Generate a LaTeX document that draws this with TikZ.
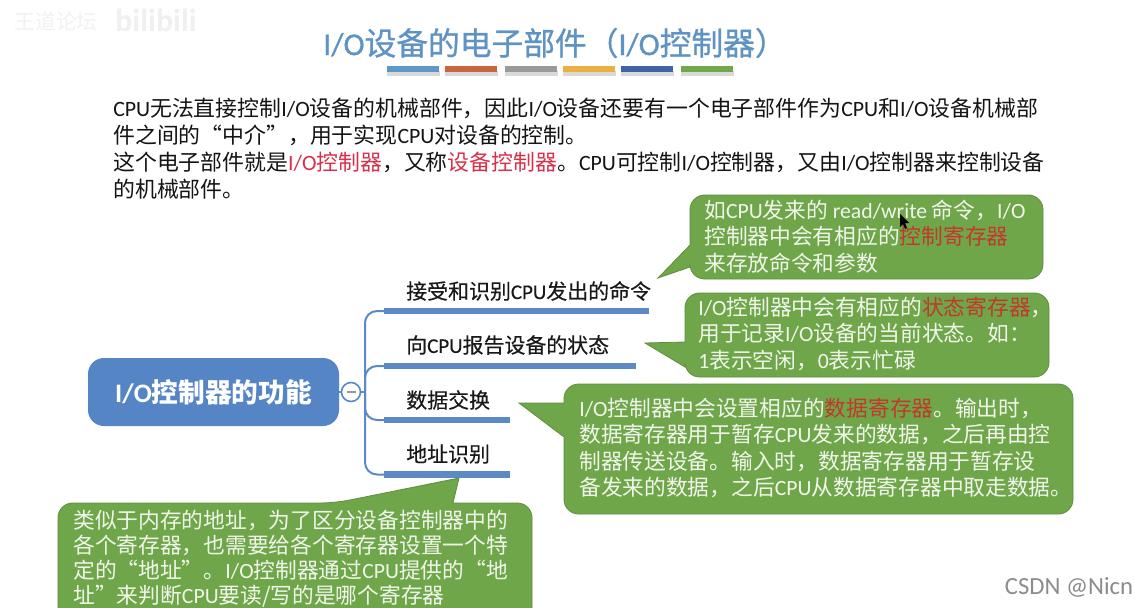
\documentclass[tikz,border=0pt]{standalone}
\usepackage{fontspec}
\setmainfont{Noto Sans CJK SC}
\newfontfamily\latinface{Carlito}
\newfontfamily\medface[FakeBold=0.35]{Noto Sans CJK SC}
\newfontfamily\medlatin[FakeBold=0.35]{Carlito}
\newfontfamily\titleface[FakeBold=0.8]{Noto Sans CJK SC}
\newfontfamily\titlelatin[FakeBold=0.8]{Carlito}
\newcommand{\la}[1]{{\latinface #1}}
\newcommand{\lm}[1]{{\medlatin #1}}
\newcommand{\lt}[1]{{\titlelatin #1}}
\definecolor{titleblue}{HTML}{5F93C4}
\definecolor{barblue}{HTML}{5B8AC6}
\definecolor{rootblue}{HTML}{5585C4}
\definecolor{calloutgreen}{HTML}{70A64A}
\definecolor{calloutedge}{HTML}{5E8F3E}
\definecolor{bodyred}{HTML}{D8304A}
\definecolor{calloutred}{HTML}{C0392B}
\definecolor{calloutink}{HTML}{F1F6EC}
\newcommand{\bodyr}[1]{\textcolor{bodyred}{#1}}
\newcommand{\callr}[1]{\textcolor{calloutred}{#1}}
\tikzset{
  x=0.75pt,y=-0.75pt,
  colorbar/.style={rectangle,draw=none,minimum width=52*0.75pt,minimum height=4.5pt,inner sep=0pt,anchor=west},
  branchbar/.style={rectangle,fill=barblue,draw=none,minimum height=4.6pt,inner sep=0pt,anchor=west},
  branchline/.style={draw=barblue,line width=1.5pt,rounded corners=9pt},
  branchtext/.style={anchor=west,inner sep=0pt,font=\medface\fontsize{15.7pt}{17pt}\selectfont,text=black!90},
  bodytext/.style={anchor=north west,inner sep=0pt,align=left,text=black!92,font=\fontsize{16.4pt}{20.1pt}\selectfont},
  calloutshape/.style={fill=calloutgreen,draw=calloutedge,line width=0.6pt,rounded corners=11pt},
  callouttext/.style={anchor=north west,inner sep=0pt,align=left,text=calloutink,font=\fontsize{16.3pt}{19.9pt}\selectfont},
}
\begin{document}
\begin{tikzpicture}
\useasboundingbox (0,0) rectangle (1135,607);
\fill[white] (0,0) rectangle (1135,607);
% watermarks
\node (wm1) at (56,22) [text=black!5,font=\fontsize{15.5pt}{16pt}\selectfont,inner sep=0pt] {王道论坛};
\node (wm2) at (156,20) [text=black!6,font=\latinface\bfseries\fontsize{24pt}{24pt}\selectfont,inner sep=0pt] {bilibili};
% title
\node (title) at (555,43) [text=titleblue,inner sep=0pt,font=\titleface\fontsize{23.8pt}{26pt}\selectfont] {\lt{I/O}设备的电子部件（\lt{I/O}控制器）};
\foreach \nm/\xa/\col in {b1/387/5F97C9,b2/445/C8663F,b3/505/9A9A9A,b4/563/EDB040,b5/621/3F62A8,b6/681/70A84A}{
  \definecolor{tmpc}{HTML}{\col}
  \fill[black!15] (\xa,70.5) rectangle ++(53,5);
  \node[colorbar,fill=tmpc] (\nm) at (\xa,69) {};
}
% body
\node[bodytext] (para) at (113,98) {\la{CPU}无法直接控制\la{I/O}设备的机械部件，因此\la{I/O}设备还要有一个电子部件作为\la{CPU}和\la{I/O}设备机械部\\
件之间的“中介”，用于实现\la{CPU}对设备的控制。\\
这个电子部件就是\bodyr{\la{I/O}控制器}，又称\bodyr{设备控制器}。\la{CPU}可控制\la{I/O}控制器，又由\la{I/O}控制器来控制设备\\
的机械部件。};
% mind map
\node[rectangle,rounded corners=12pt,fill=rootblue,minimum width=251*0.75pt,minimum height=68*0.75pt,inner sep=0pt,text=white,font=\fontsize{20pt}{22pt}\selectfont\bfseries] (root) at (213.5,392) {\la{I/O}控制器的功能};
\coordinate (trunk) at (365,392);
\node[branchbar,minimum width=265*0.75pt] (bar1) at (384,311) {};
\node[branchbar,minimum width=252*0.75pt] (bar2) at (384,366) {};
\node[branchbar,minimum width=126*0.75pt] (bar3) at (384,420) {};
\node[branchbar,minimum width=126*0.75pt] (bar4) at (384,474.5) {};
\draw[branchline] (trunk) |- (bar1.west);
\draw[branchline] (trunk) |- (bar2.west);
\draw[branchline] (trunk) |- (bar3.west);
\draw[branchline] (trunk) |- (bar4.west);
\node[circle,draw=barblue,line width=1.2pt,fill=white,minimum size=19*0.75pt,inner sep=0pt] (collapse) at (351,392) {};
\draw[branchline] (root.east) -- (collapse.west);
\draw[branchline] (collapse.east) -- (trunk);
\draw[black!40,line width=1pt] (346.5,392) -- (355.5,392);
\node[branchtext] (t1) at (406,291) {接受和识别\lm{CPU}发出的命令};
\node[branchtext] (t2) at (406,345) {向\lm{CPU}报告设备的状态};
\node[branchtext] (t3) at (406,400) {数据交换};
\node[branchtext] (t4) at (406,454) {地址识别};
% callout 1
\draw[calloutshape] (800,195) -- (1043,195) -- (1043,279) -- (690,279) [sharp corners] -- (690,267) -- (658,278) -- (690,245) [rounded corners=11pt] -- (690,195) -- cycle;
\node[callouttext] (c1) at (704,199.5) {如\la{CPU}发来的 \la{read/write} 命令，\la{I/O}\\
控制器中会有相应的\callr{控制寄存器}\\
来存放命令和参数};
% callout 2
\draw[calloutshape] (800,293) -- (1049,293) -- (1049,377) -- (685,377) [sharp corners] -- (685,367) -- (645,343) -- (685,342) [rounded corners=11pt] -- (685,293) -- cycle;
\node[callouttext] (c2) at (698,296.5) {\la{I/O}控制器中会有相应的\callr{状态寄存器}，\\
用于记录\la{I/O}设备的当前状态。如：\\
\la{1}表示空闲，\la{0}表示忙碌};
% callout 3
\draw[calloutshape] (800,384) -- (1073,384) -- (1073,514) -- (564,514) [sharp corners] -- (564,437) -- (519,403) -- (564,403) [rounded corners=11pt] -- (564,384) -- cycle;
\node[callouttext] (c3) at (579,397.5) {\la{I/O}控制器中会设置相应的\callr{数据寄存器}。输出时，\\
数据寄存器用于暂存\la{CPU}发来的数据，之后再由控\\
制器传送设备。输入时，数据寄存器用于暂存设\\
备发来的数据，之后\la{CPU}从数据寄存器中取走数据。};
% callout 4
\draw[calloutshape] (200,503) -- (335,503) [sharp corners] -- (459,478) -- (453,503) [rounded corners=11pt] -- (532,503) -- (532,640) -- (58,640) -- (58,503) -- cycle;
\node[callouttext,font=\fontsize{16.3pt}{18.8pt}\selectfont] (c4) at (73,510) {类似于内存的地址，为了区分设备控制器中的\\
各个寄存器，也需要给各个寄存器设置一个特\\
定的“地址”。\la{I/O}控制器通过\la{CPU}提供的“地\\
址”来判断\la{CPU}要读/写的是哪个寄存器};
% cursor
\fill[black] (900,214) -- (900,227) -- (903,224) -- (905,229) -- (907,228) -- (905,223) -- (909,223) -- cycle;
\node (wm3) at (1069,587) [text=black!45,inner sep=0pt,font=\latinface\fontsize{18.5pt}{18pt}\selectfont] {CSDN @Nicn};
\end{tikzpicture}
\end{document}
